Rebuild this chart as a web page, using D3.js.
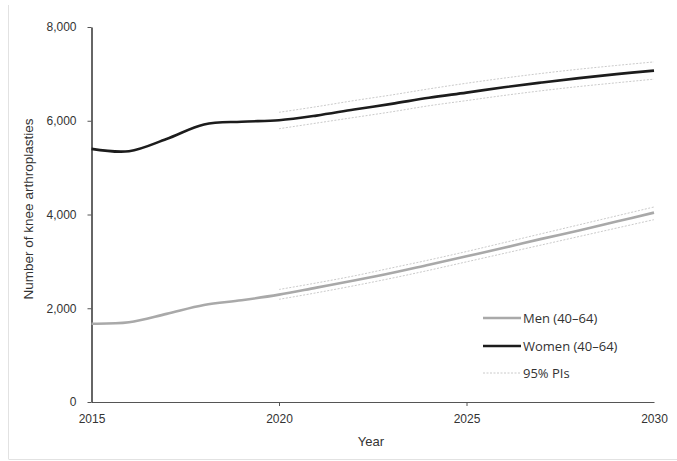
<!DOCTYPE html>
<html>
<head>
<meta charset="utf-8">
<script src="https://cdn.jsdelivr.net/npm/d3@7"></script>
<style>
  html, body { margin: 0; padding: 0; background: #fff; }
  svg { display: block; }
  text { font-family: "Liberation Sans", Arial, sans-serif; fill: #333; }
</style>
</head>
<body>
<svg id="chart" width="677" height="461"></svg>
<script>
// ---- Data ----
const years = [2015, 2016, 2017, 2018, 2019, 2020, 2021, 2022, 2023, 2024, 2025, 2026, 2027, 2028, 2029, 2030];
const menValues   = [1670, 1700, 1880, 2070, 2170, 2290, 2440, 2590, 2750, 2930, 3110, 3290, 3480, 3660, 3850, 4040];
const womenValues = [5400, 5350, 5610, 5920, 5980, 6010, 6110, 6240, 6360, 6490, 6600, 6715, 6815, 6910, 6995, 7070];
const piYears = [2020, 2021, 2022, 2023, 2024, 2025, 2026, 2027, 2028, 2029, 2030];
const menUpper   = [2400, 2540, 2690, 2860, 3030, 3210, 3400, 3590, 3780, 3970, 4160];
const menLower   = [2190, 2330, 2480, 2640, 2810, 2990, 3170, 3350, 3530, 3710, 3890];
const womenUpper = [6180, 6300, 6430, 6550, 6680, 6800, 6910, 7010, 7100, 7180, 7255];
const womenLower = [5830, 5950, 6070, 6190, 6320, 6430, 6540, 6640, 6730, 6810, 6887];
const xTicks = [2015, 2020, 2025, 2030];
const yTicks = [0, 2000, 4000, 6000, 8000];
const legendLabels = ["Men (40\u201364)", "Women (40\u201364)", "95% PIs"];

(function () {
// ---- Layout ----
const svg = d3.select("#chart");
const mLeft = 91.5, mRight = 654, mTop = 27, mBottom = 402;

// page frame
svg.append("line").attr("x1", 8.5).attr("x2", 8.5).attr("y1", 5).attr("y2", 459)
  .attr("stroke", "#e2e2e2").attr("stroke-width", 1);
svg.append("line").attr("x1", 8.5).attr("x2", 677).attr("y1", 459.5).attr("y2", 459.5)
  .attr("stroke", "#e2e2e2").attr("stroke-width", 1);

const x = d3.scaleLinear().domain([2015, 2030]).range([mLeft, mRight]);
const y = d3.scaleLinear().domain([0, 8000]).range([mBottom, mTop]);

// axes
const xAxis = svg.append("g").attr("transform", `translate(0,${mBottom})`)
  .call(d3.axisBottom(x).tickValues(xTicks).tickFormat(d3.format("d")).tickSize(4).tickSizeOuter(0));
xAxis.select(".domain").attr("stroke", "#555").attr("stroke-width", 1.2);
xAxis.selectAll(".tick line").attr("stroke", "#555");
xAxis.selectAll(".tick text").attr("dy", "0").attr("y", 21)
  .style("font-size", "12px").style("font-family", "Liberation Sans, Arial, sans-serif").attr("fill", "#333");
xAxis.selectAll(".tick").filter(d => d === 2015 || d === 2030).select("line").remove();

const yAxis = svg.append("g").attr("transform", `translate(${mLeft},0)`)
  .call(d3.axisLeft(y).tickValues(yTicks).tickFormat(d3.format(",")).tickSize(4).tickSizeOuter(0));
yAxis.select(".domain").attr("stroke", "#333").attr("stroke-width", 1.5);
yAxis.selectAll(".tick line").attr("stroke", "#555");
yAxis.selectAll(".tick text").attr("x", -15)
  .style("font-size", "12px").style("font-family", "Liberation Sans, Arial, sans-serif").attr("fill", "#333");

// axis titles
svg.append("text").attr("x", 371).attr("y", 446).attr("text-anchor", "middle")
  .style("font-size", "13px").text("Year");
svg.append("text").attr("transform", "translate(33,209) rotate(-90)").attr("text-anchor", "middle")
  .style("font-size", "13.5px").text("Number of knee arthroplasties");

// lines
const line = d3.line().x(d => x(d[0])).y(d => y(d[1])).curve(d3.curveCatmullRom.alpha(0.5));
const zip = (xs, vs) => xs.map((v, i) => [v, vs[i]]);

const piStyle = sel => sel.attr("fill", "none").attr("stroke", "#bdbdbd")
  .attr("stroke-width", 0.8).attr("stroke-dasharray", "2,1.5");

[womenUpper, womenLower, menUpper, menLower].forEach(arr => {
  svg.append("path").datum(zip(piYears, arr)).attr("d", line).call(piStyle);
});

svg.append("path").datum(zip(years, menValues)).attr("d", line)
  .attr("fill", "none").attr("stroke", "#a9a9a9").attr("stroke-width", 2.6);
svg.append("path").datum(zip(years, womenValues)).attr("d", line)
  .attr("fill", "none").attr("stroke", "#1c1c1c").attr("stroke-width", 2.6);

// legend
const legendY = [318, 346, 373];
const lg = svg.append("g");
legendLabels.forEach((lab, i) => {
  const l = lg.append("line").attr("x1", 483).attr("x2", 521).attr("y1", legendY[i]).attr("y2", legendY[i]);
  if (i === 0) l.attr("stroke", "#a9a9a9").attr("stroke-width", 2.6);
  else if (i === 1) l.attr("stroke", "#1c1c1c").attr("stroke-width", 2.6);
  else l.call(piStyle);
  lg.append("text").attr("x", 523).attr("y", legendY[i] + 4.5)
    .style("font-size", "13px").style("font-family", "Open Sans, Liberation Sans, sans-serif").text(lab);
});
})();
</script>
</body>
</html>
